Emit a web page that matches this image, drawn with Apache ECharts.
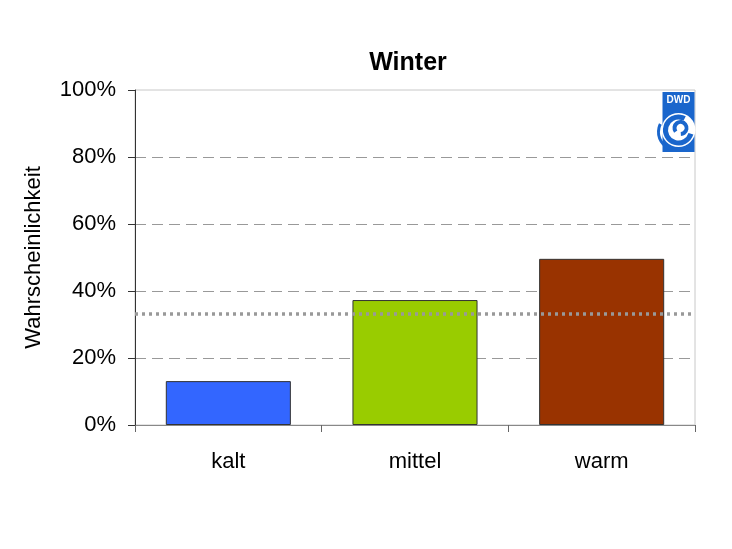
<!DOCTYPE html>
<html><head><meta charset="utf-8">
<script src="https://cdn.jsdelivr.net/npm/echarts@6/dist/echarts.min.js"></script>
<style>html,body{margin:0;padding:0;background:#fff}#c{width:732px;height:549px}</style>
</head><body><div id="c"></div>
<script>
const categories = ['kalt', 'mittel', 'warm'];
const values = [13.1, 37.3, 49.6];
const barColors = ['#3366ff', '#99cc00', '#993300'];
const climatology = 33.33;
const yTicks = [0, 20, 40, 60, 80, 100];

const chart = echarts.init(document.getElementById('c'));
chart.setOption({
  animation: false,
  backgroundColor: '#fff',
  title: {text: 'Winter', left: 403, top: 46, textAlign: 'center',
    textStyle: {fontFamily: 'Liberation Sans, Arial', fontSize: 25, fontWeight: 'bold', color: '#000'}},
  grid: {left: 135, right: 37, top: 90, bottom: 124, show: true, borderColor: '#c8c8c8', borderWidth: 1},
  xAxis: {type: 'category', data: categories,
    axisLine: {lineStyle: {color: '#888', width: 1}},
    axisTick: {show: true, length: 7, alignWithLabel: false, lineStyle: {color: '#666'}},
    axisLabel: {fontFamily: 'Liberation Sans, Arial', fontSize: 22, color: '#000', margin: 26}},
  yAxis: {type: 'value', min: 0, max: 100, interval: 20,
    name: 'Wahrscheinlichkeit', nameLocation: 'middle', nameGap: 90,
    nameTextStyle: {fontFamily: 'Liberation Sans, Arial', fontSize: 22, color: '#000'},
    axisLine: {show: true, lineStyle: {color: '#333', width: 1}},
    axisTick: {show: true, length: 7, lineStyle: {color: '#333'}},
    axisLabel: {fontFamily: 'Liberation Sans, Arial', fontSize: 22, color: '#000', margin: 19,
      formatter: v => yTicks.includes(v) ? v + '%' : ''},
    splitLine: {show: true, lineStyle: {color: ['#999', '#999', '#999', '#999', '#999', 'rgba(0,0,0,0)'], type: [11, 6], width: 1}}},
  series: [{
    type: 'bar', barCategoryGap: '33%',
    data: values.map((v, i) => ({value: v, itemStyle: {color: barColors[i]}})),
    itemStyle: {borderColor: '#333', borderWidth: 1},
    markLine: {silent: true, symbol: 'none', label: {show: false},
      lineStyle: {color: '#999', type: [3, 4], width: 3.5},
      data: [{yAxis: climatology}]}
  }],
  graphic: [
    {type: 'group', left: 656, top: 92, children: [
      {type: 'rect', shape: {x: 4, y: 0, width: 32, height: 60}, style: {fill: '#1a66cc'}},
      {type: 'text', style: {x: 20, y: 3, text: 'DWD', fill: '#fff', font: 'bold 10px Liberation Sans', align: 'center'}},
      {type: 'circle', shape: {cx: 20, cy: 38, r: 17}, style: {fill: '#fff'}},
      {type: 'arc', shape: {cx: 20, cy: 38, r: 13, startAngle: 0.3, endAngle: 5.2}, style: {stroke: '#1a66cc', lineWidth: 5, fill: null}},
      {type: 'arc', shape: {cx: 22, cy: 36, r: 6, startAngle: 2.5, endAngle: 7.8}, style: {stroke: '#1a66cc', lineWidth: 4, fill: null}},
      {type: 'arc', shape: {cx: 18, cy: 40, r: 18, startAngle: 1.8, endAngle: 3.6}, style: {stroke: '#1a66cc', lineWidth: 3, fill: null}}
    ]}
  ]
});
</script></body></html>
